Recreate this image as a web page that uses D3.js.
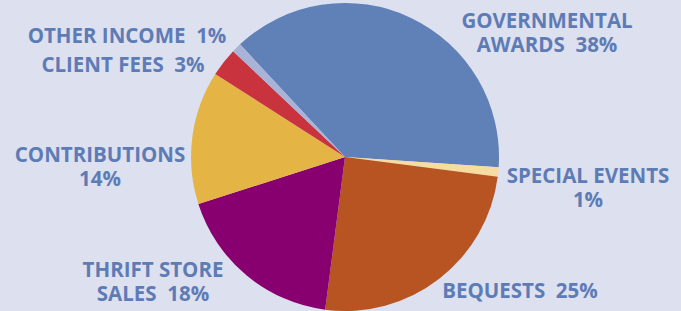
<!DOCTYPE html>
<html><head><meta charset="utf-8">
<script src="https://cdn.jsdelivr.net/npm/d3@7"></script>
<style>html,body{margin:0;padding:0;background:#dde0ee;}svg{display:block;}</style>
</head><body>
<svg id="c" width="681" height="311"></svg>
<script>
const categories = ["GOVERNMENTAL AWARDS","SPECIAL EVENTS","BEQUESTS","THRIFT STORE SALES","CONTRIBUTIONS","CLIENT FEES","OTHER INCOME"];
const values = [38, 1, 25, 18, 14, 3, 1];
const colors = ["#6080b8","#f6dc9e","#b85322","#880070","#e4b545","#c8333d","#a9b3d8"];
const labelLines = [
  ["GOVERNMENTAL","AWARDS  38%"],
  ["SPECIAL EVENTS","1%"],
  ["BEQUESTS  25%"],
  ["THRIFT STORE","SALES  18%"],
  ["CONTRIBUTIONS","14%"],
  ["CLIENT FEES  3%"],
  ["OTHER INCOME  1%"]
];
const labelPos = [[547,28],[588,183],[520,298],[153,277],[100,162],[123,72],[127,43]];

const svg = d3.select("#c");
svg.append("rect").attr("width",681).attr("height",311).attr("fill","#dde0ee");
const cx = 345, cy = 157, r = 154;
const startA = -43 * Math.PI/180;
const pie = d3.pie().sort(null).value(d=>d).startAngle(startA).endAngle(startA + 2*Math.PI);
const arc = d3.arc().innerRadius(0).outerRadius(r);
const g = svg.append("g").attr("transform",`translate(${cx},${cy})`);
g.selectAll("path").data(pie(values)).join("path")
  .attr("d",arc).attr("fill",(d,i)=>colors[i]);

const lg = svg.append("g").attr("font-family","'Open Sans', sans-serif").attr("font-weight","bold")
  .attr("font-size",20.5).attr("fill","#5d7cb6").attr("text-anchor","middle");
labelLines.forEach((lines,i)=>{
  lines.forEach((ln,j)=>{
    lg.append("text").attr("x",labelPos[i][0]).attr("y",labelPos[i][1] + j*24)
      .style("white-space","pre").text(ln);
  });
});
</script>
</body></html>
